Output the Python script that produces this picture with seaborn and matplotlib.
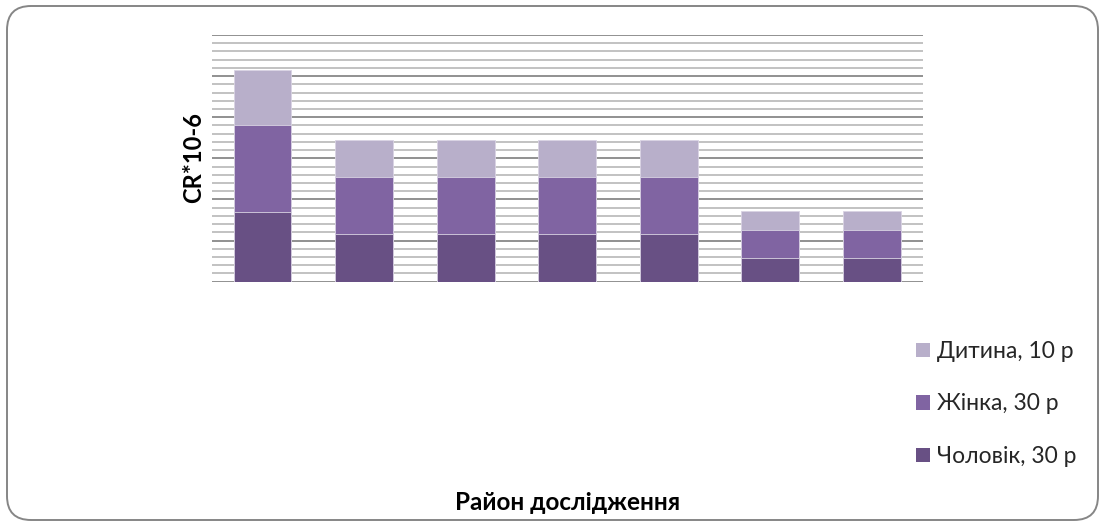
import matplotlib
matplotlib.use("Agg")
import matplotlib.pyplot as plt
from matplotlib.patches import FancyBboxPatch
from matplotlib.transforms import IdentityTransform
from matplotlib.ticker import MultipleLocator
import numpy as np
import pandas as pd
import seaborn as sns

# Carcinogenic risk by study district (CR*10-6), stacked by population group
districts = ["1", "2", "3", "4", "5", "6", "7"]
men_30 = [0.85, 0.58, 0.58, 0.58, 0.58, 0.29, 0.29]
women_30 = [1.05, 0.69, 0.69, 0.69, 0.69, 0.34, 0.34]
child_10 = [0.67, 0.45, 0.45, 0.45, 0.45, 0.23, 0.23]

series_labels = ["Чоловік, 30 р", "Жінка, 30 р", "Дитина, 10 р"]
series_colors = ["#685084", "#8064A2", "#B8AFCA"]

sns.set_theme(style="white")
plt.rcParams["font.family"] = ["Lato", "DejaVu Sans"]

W, H = 1105, 525
fig = plt.figure(figsize=(W / 100, H / 100), dpi=100)
ax = fig.add_axes([211.7 / W, 1 - 281.7 / H, (922.7 - 211.7) / W, (281.7 - 35) / H])

df = pd.DataFrame({
    "district": districts,
    "men": men_30,
    "women": women_30,
    "child": child_10,
})
df["lvl1"] = df["men"]
df["lvl2"] = df["men"] + df["women"]
df["lvl3"] = df["lvl2"] + df["child"]

# draw cumulative layers from the top down so each segment shows its own colour
for col, color in zip(["lvl3", "lvl2", "lvl1"], series_colors[::-1]):
    sns.barplot(data=df, x="district", y=col, color=color, width=0.57,
                saturation=1, edgecolor="#d9d3e3", linewidth=0.6, ax=ax, zorder=3)

ax.set_xlim(-0.5, 6.5)
ax.set_ylim(0, 3.0)
ax.yaxis.set_major_locator(MultipleLocator(0.5))
ax.yaxis.set_minor_locator(MultipleLocator(0.1))
ax.grid(False)
ax.grid(axis="y", which="minor", color="#b8b8b8", linewidth=1.2, zorder=0)
ax.grid(axis="y", which="major", color="#888888", linewidth=1.3, zorder=0)
ax.set_axisbelow(True)
for s in ax.spines.values():
    s.set_visible(False)
ax.tick_params(axis="both", which="both", length=0, labelleft=False, labelbottom=False)
ax.set_xlabel("")
ax.set_ylabel("")

fig.text(194 / W, 1 - 158 / H, "CR*10-6", rotation=90, ha="center", va="center",
         fontsize=17, fontweight="bold", color="#000000")
fig.text(568 / W, 1 - 503 / H, "Район дослідження", ha="center", va="center",
         fontsize=17.5, fontweight="bold", color="#000000")

handles = [plt.Rectangle((0, 0), 1, 1, facecolor=c, edgecolor="none") for c in series_colors]
leg = fig.legend(handles[::-1], series_labels[::-1], loc="center left",
                 bbox_to_anchor=(916 / W, 1 - 404 / H), frameon=False,
                 fontsize=16.5, handlelength=0.6, handleheight=0.6,
                 handletextpad=0.3, labelspacing=1.38, borderaxespad=0, borderpad=0)

border = FancyBboxPatch((7, 5), 1091, 514, boxstyle="round,pad=0,rounding_size=24",
                        transform=IdentityTransform(), facecolor="none",
                        edgecolor="#868686", linewidth=1.4)
fig.patches.append(border)

fig.savefig("out.png", dpi=100)
